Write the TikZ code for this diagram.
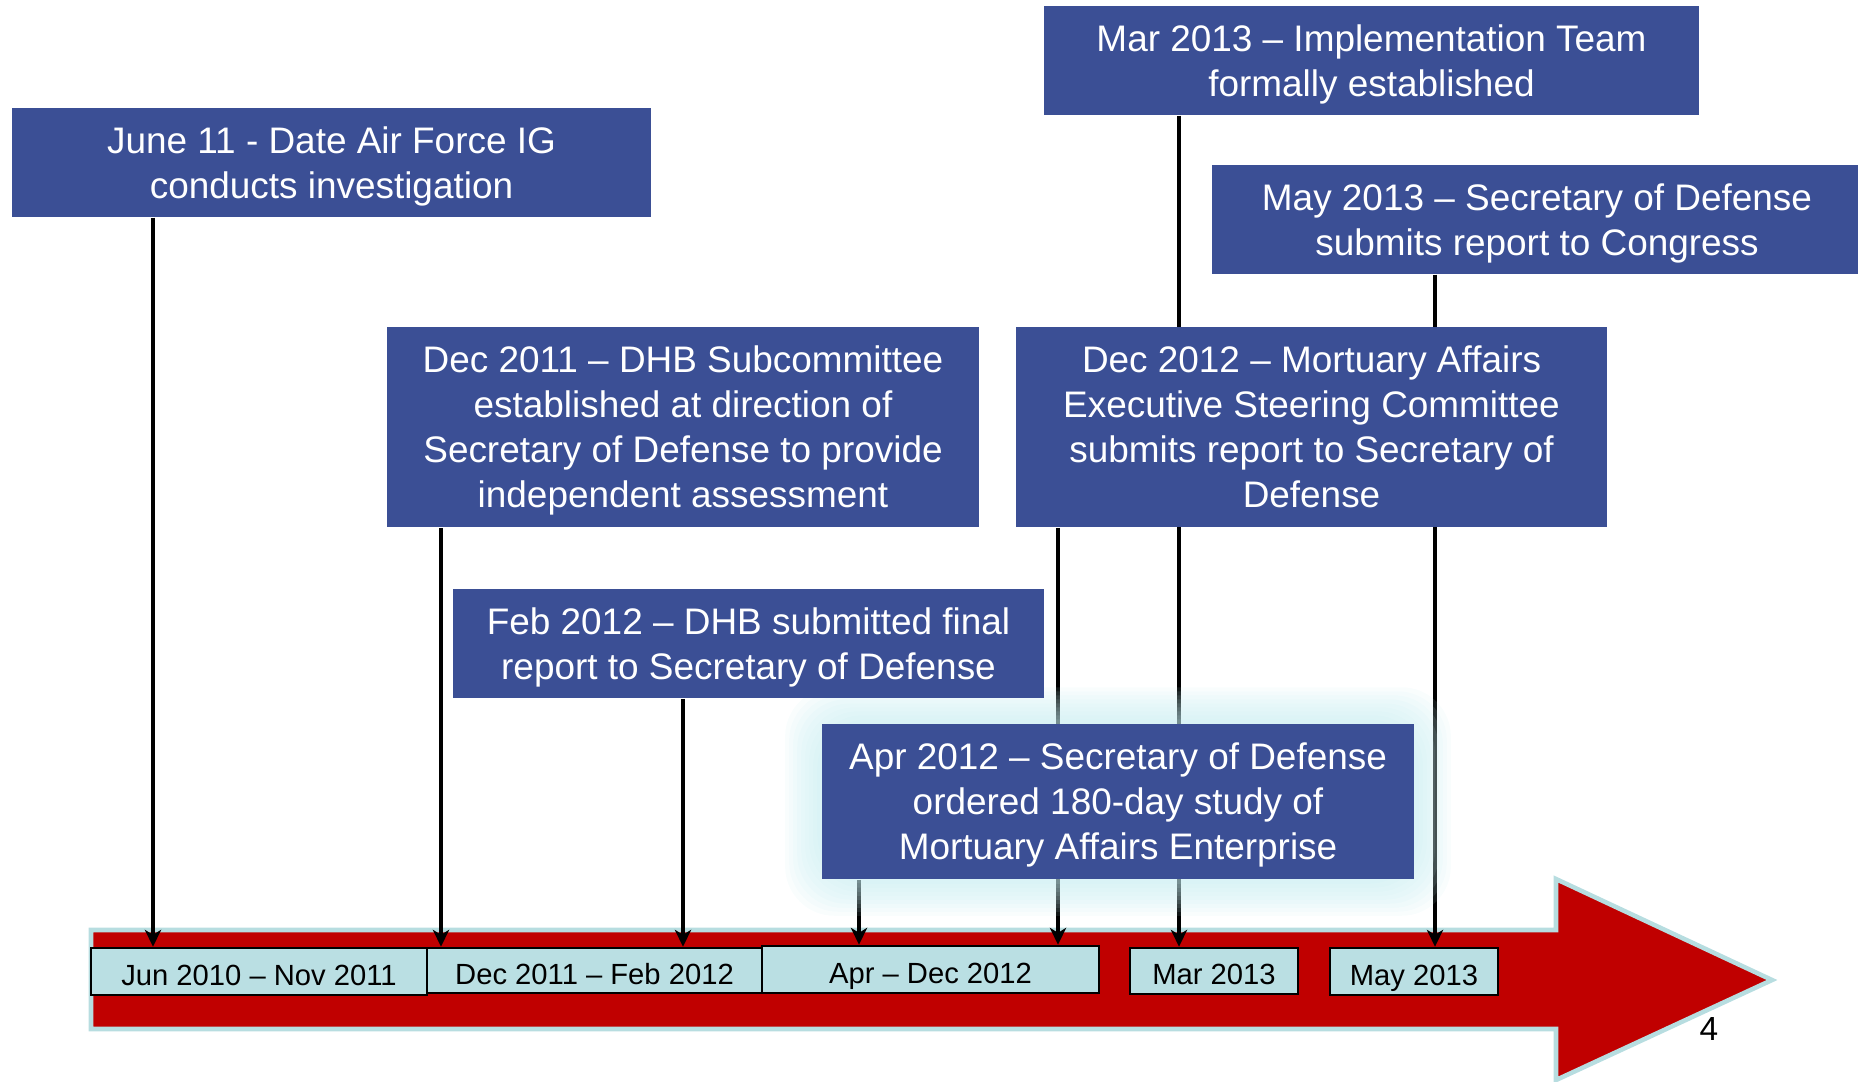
\documentclass[tikz,border=0pt]{standalone}
\usepackage{fontspec}
\setmainfont{Liberation Sans}
\usetikzlibrary{arrows.meta}

\definecolor{evtblue}{HTML}{3B4F95}
\definecolor{lblcyan}{HTML}{BADFE3}
\definecolor{arrowred}{HTML}{C00000}
\definecolor{rimcyan}{HTML}{B7DDE0}
\definecolor{glowcyan}{HTML}{C4ECF0}

\pgfdeclarelayer{bg}
\pgfsetlayers{bg,main}

\tikzset{
  evt/.style={fill=evtblue, text=white, align=center, inner sep=0pt,
    text depth=0pt, font=\fontsize{10.5}{12.8}\selectfont},
  period/.style={fill=lblcyan, draw=black, line width=0.7pt, inner sep=0pt,
    text height=7.9pt, text depth=0pt, font=\fontsize{8.3}{10}\selectfont},
  conn/.style={line width=0.95pt, -{Stealth[length=4.8pt,width=4.6pt,inset=1.4pt]}}
}

\begin{document}
\begin{tikzpicture}[x=0.01cm,y=-0.01cm]
        \useasboundingbox (0,0) rectangle (1858,1081);

        % events
        \node[evt, minimum width=6.39cm, minimum height=1.09cm] (A) at (331.5,162.5) {June 11 - Date Air Force IG\\conducts investigation};
        \node[evt, minimum width=6.55cm, minimum height=1.09cm] (B) at (1371.5,60.5) {Mar 2013 -- Implementation Team\\formally established};
        \node[evt, minimum width=6.50cm, minimum height=1.09cm] (C) at (1537,219.5) {May 2013 -- Secretary of Defense\\submits report to Congress};
        \node[evt, minimum width=5.92cm, minimum height=2.00cm] (D) at (683,427) {Dec 2011 -- DHB Subcommittee\\established at direction of\\Secretary of Defense to provide\\independent assessment};
        \node[evt, minimum width=5.91cm, minimum height=2.00cm] (E) at (1311.5,427) {Dec 2012 -- Mortuary Affairs\\Executive Steering Committee\\submits report to Secretary of\\Defense};
        \node[evt, minimum width=5.91cm, minimum height=1.09cm] (F) at (748.5,643.5) {Feb 2012 -- DHB submitted final\\report to Secretary of Defense};
        \node[evt, minimum width=5.92cm, minimum height=1.55cm] (G) at (1118,801.5) {Apr 2012 -- Secretary of Defense\\ordered 180-day study of\\Mortuary Affairs Enterprise};

        % periods
        \node[period, minimum width=3.36cm, minimum height=0.47cm] (L1) at (259,971.5) {Jun 2010 -- Nov 2011};
        \node[period, minimum width=3.35cm, minimum height=0.45cm] (L2) at (594.5,970.5) {Dec 2011 -- Feb 2012};
        \node[period, minimum width=3.37cm, minimum height=0.47cm] (L3) at (930.5,969.5) {Apr -- Dec 2012};
        \node[period, minimum width=1.68cm, minimum height=0.46cm] (L4) at (1214,971) {Mar 2013};
        \node[period, minimum width=1.68cm, minimum height=0.47cm] (L5) at (1414,971.5) {May 2013};

        \node (pg) at (1709,1029) {\fontsize{9.5}{11}\selectfont 4};

        \coordinate (xa) at (153,0);
        \coordinate (xd) at (441,0);
        \coordinate (xf) at (683,0);
        \coordinate (xg) at (859,0);
        \coordinate (xe) at (1058,0);
        \coordinate (xb) at (1179,0);
        \coordinate (xc) at (1435,0);

        \begin{pgfonlayer}{bg}
        \fill[arrowred, draw=rimcyan, line width=1.3pt] (91,930) -- (1556,930) -- (1556,879) -- (1772,980) -- (1556,1080) -- (1556,1029) -- (91,1029) -- cycle;

        \draw[conn] (A.south -| xa) -- (L1.north -| xa);
        \draw[conn] (D.south -| xd) -- (L2.north -| xd);
        \draw[conn] (F.south -| xf) -- (L2.north -| xf);
        \draw[conn] (G.south -| xg) -- (L3.north -| xg);
        \draw[conn] (E.south -| xe) -- (L3.north -| xe);
        \draw[conn] (B.south -| xb) -- (L4.north -| xb);
        \draw[conn] (C.south -| xc) -- (L5.north -| xc);

        % glow round G
        \foreach \g in {36,32,...,4}
          \fill[glowcyan, fill opacity=0.1, rounded corners=14pt] ([shift={(-\g,\g)}]G.south west) rectangle ([shift={(\g,-\g)}]G.north east);
        \end{pgfonlayer}

      \end{tikzpicture}
\end{document}
